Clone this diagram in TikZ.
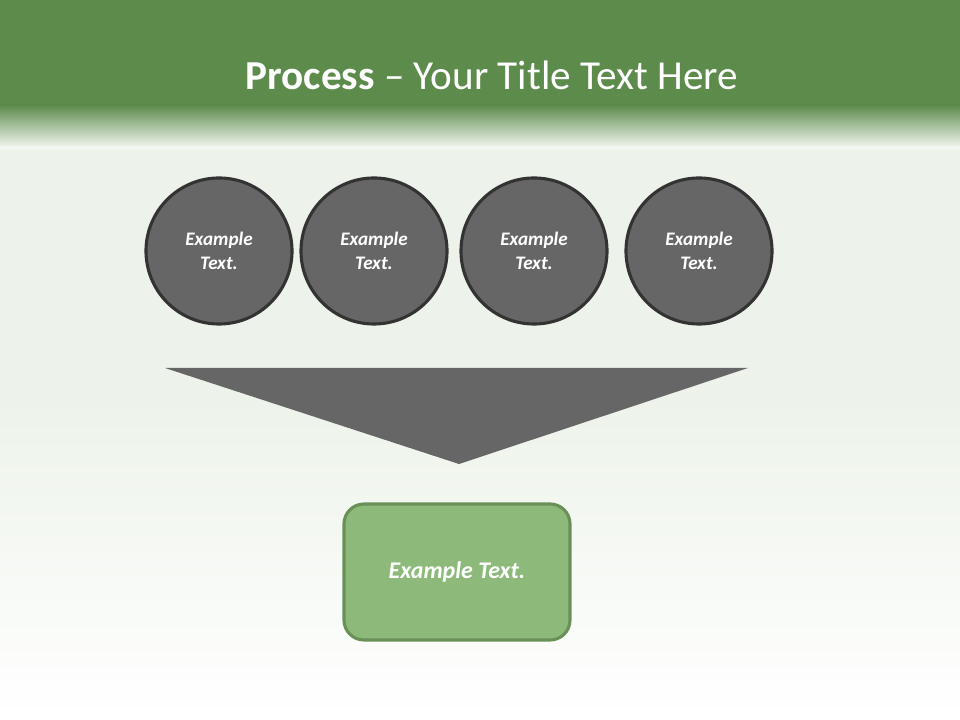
\documentclass[tikz,border=0pt]{standalone}
\usepackage{fontspec}
\setmainfont{Carlito}
\usetikzlibrary{positioning}

\definecolor{titlegreen}{HTML}{5D8B4C}
\definecolor{palegreen}{HTML}{EDF3EA}
\definecolor{stepgray}{HTML}{666666}
\definecolor{stepline}{HTML}{333333}
\definecolor{boxgreen}{HTML}{8DBA7B}
\definecolor{boxline}{HTML}{6A9059}

\begin{document}
\begin{tikzpicture}[x=0.025cm, y=-0.025cm,
    stepcircle/.style={circle, fill=stepgray, draw=stepline, line width=2.2pt, minimum size=3.65cm, inner sep=0pt, align=center, text=white, font=\fontsize{13.6}{17}\selectfont\bfseries\itshape},
    resultbox/.style={rectangle, rounded corners=0.5cm, fill=boxgreen, draw=boxline, line width=2.2pt, minimum width=5.65cm, minimum height=3.4cm, text=white, font=\fontsize{17}{20}\selectfont\bfseries\itshape}]
	\useasboundingbox (0,0) rectangle (960,720);
	% background
	\fill[palegreen] (0,0) rectangle (960,720);
	\shade[top color=palegreen, bottom color=white] (0,400) rectangle (960,720);
	\fill[titlegreen] (0,0) rectangle (960,105);
	\shade[top color=titlegreen, bottom color=palegreen] (0,105) rectangle (960,146);
	\fill[white, opacity=0.35] (0,146) rectangle (960,150);
	\node (title) at (492,75) [text=white, font=\fontsize{29.3}{34}\selectfont] {\textbf{Process} -- Your Title Text Here};
	% steps
	\node (stepA) at (219,251) [stepcircle] {Example\\Text.};
	\node (stepB) at (374,251) [stepcircle] {Example\\Text.};
	\node (stepC) at (534,251) [stepcircle] {Example\\Text.};
	\node (stepD) at (699,251) [stepcircle] {Example\\Text.};
	% funnel
	\fill[stepgray] (165,368) -- (748,368) -- (459,464) -- cycle;
	\node (result) at (457,572) [resultbox] {Example Text.};
\end{tikzpicture}
\end{document}
